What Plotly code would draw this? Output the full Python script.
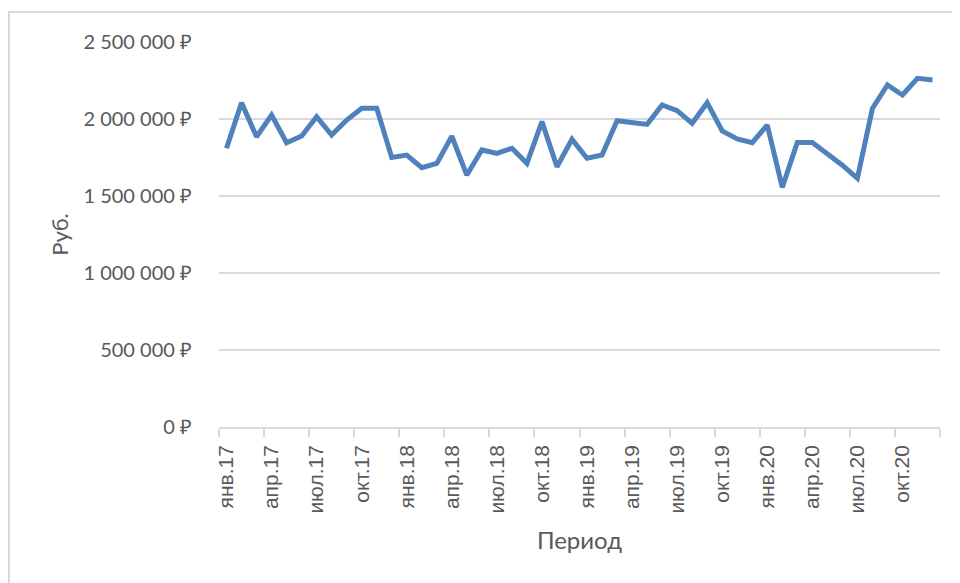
import plotly.graph_objects as go

months = [
    "янв.17", "фев.17", "мар.17", "апр.17", "май.17", "июн.17", "июл.17", "авг.17", "сен.17", "окт.17", "ноя.17", "дек.17",
    "янв.18", "фев.18", "мар.18", "апр.18", "май.18", "июн.18", "июл.18", "авг.18", "сен.18", "окт.18", "ноя.18", "дек.18",
    "янв.19", "фев.19", "мар.19", "апр.19", "май.19", "июн.19", "июл.19", "авг.19", "сен.19", "окт.19", "ноя.19", "дек.19",
    "янв.20", "фев.20", "мар.20", "апр.20", "май.20", "июн.20", "июл.20", "авг.20", "сен.20", "окт.20", "ноя.20", "дек.20",
]

revenue = [
    1810000, 2106000, 1885000, 2026000, 1846000, 1890000, 2015000, 1896000, 1993000, 2069000, 2069000, 1750000,
    1766000, 1684000, 1712000, 1888000, 1636000, 1799000, 1777000, 1810000, 1712000, 1983000, 1690000, 1868000,
    1745000, 1766000, 1989000, 1976000, 1965000, 2091000, 2054000, 1972000, 2106000, 1922000, 1870000, 1846000,
    1961000, 1556000, 1848000, 1848000, 1777000, 1700000, 1615000, 2069000, 2221000, 2156000, 2264000, 2253000,
]

y_ticks = [0, 500000, 1000000, 1500000, 2000000, 2500000]
y_tick_labels = ["0 ₽", "500 000 ₽", "1 000 000 ₽", "1 500 000 ₽", "2 000 000 ₽", "2 500 000 ₽"]

x_idx = list(range(len(months)))
label_idx = x_idx[::3]

fig = go.Figure()
fig.add_trace(go.Scatter(
    x=x_idx, y=revenue, mode="lines",
    line=dict(color="#4f81bd", width=5),
    hoverinfo="skip", showlegend=False,
))

grey = "#595959"
fig.update_layout(
    width=960, height=583,
    margin=dict(l=211, r=28, t=34, b=164),
    paper_bgcolor="white", plot_bgcolor="white",
    showlegend=False,
    xaxis=dict(
        range=[-0.5, len(months) - 0.5],
        tickmode="array", tickvals=label_idx, ticktext=[months[i] for i in label_idx],
        tickangle=-90, ticks="", showgrid=False, zeroline=False,
        showline=True, linecolor="#d9d9d9", linewidth=1.5,
        tickfont=dict(family="Liberation Sans, Arial, sans-serif", size=21, color=grey),
        minor=dict(tickmode="linear", tick0=-0.5, dtick=3, ticks="outside", ticklen=8,
                   tickcolor="#d9d9d9", tickwidth=1.5, showgrid=False),
        ticklabelstandoff=8,
        title=dict(text="Период", font=dict(family="Lato, sans-serif", size=24, color=grey), standoff=20),
    ),
    yaxis=dict(
        range=[0, 2500000],
        tickmode="array", tickvals=y_ticks, ticktext=y_tick_labels,
        showgrid=True, gridcolor="#d9d9d9", gridwidth=1.5,
        zeroline=False, showline=False, ticks="",
        tickfont=dict(family="Lato, sans-serif", size=20, color=grey),
        ticklabelstandoff=26,
        title=dict(text="Руб.", font=dict(family="Lato, sans-serif", size=22, color=grey), standoff=8),
    ),
    shapes=[dict(
        type="rect", xref="paper", yref="paper",
        x0=(9 - 219) / 721, x1=1.2, y0=-0.5, y1=(427 - 12) / 385,
        line=dict(color="#d9d9d9", width=2), fillcolor="rgba(0,0,0,0)", layer="below",
    )],
)

fig.write_html("out.html")
